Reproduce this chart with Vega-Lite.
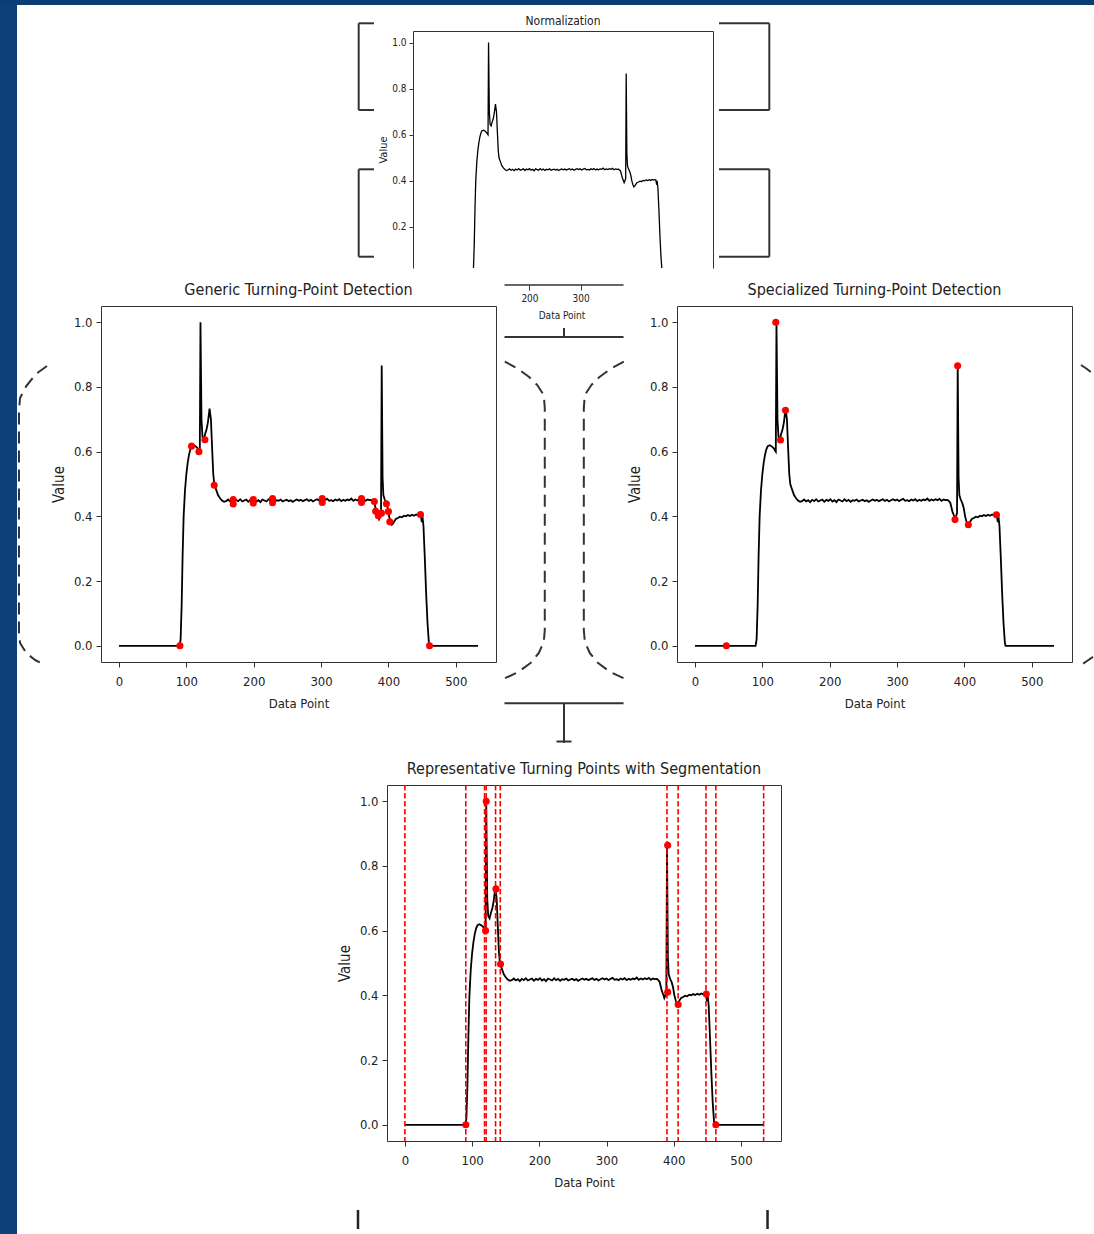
{
"$schema": "https://vega.github.io/schema/vega-lite/v6.json",
"padding": 0,
"background": "white",
"config": {
  "view": {"stroke": null},
  "font": "DejaVu Sans Condensed, Liberation Sans Narrow, DejaVu Sans, sans-serif",
  "axis": {"grid": false, "domain": false, "tickColor": "#333", "labelColor": "#222", "titleColor": "#222", "titleFontWeight": "normal", "tickSize": 5, "labelFontSize": 13, "titleFontSize": 13, "labelPadding": 5, "titlePadding": 5},
  "title": {"fontWeight": "normal", "color": "#222", "fontSize": 16},
  "concat": {"spacing": 0}
},
"datasets": {
  "signal": [
    {"x":0,"v":0},{"x":90,"v":0},{"x":91.5,"v":0.02},{"x":93,"v":0.12},{"x":94.5,"v":0.28},{"x":96,"v":0.4},{"x":98,"v":0.48},{"x":100,"v":0.53},{"x":102,"v":0.565},{"x":104,"v":0.59},{"x":106,"v":0.607},{"x":108,"v":0.617},{"x":111,"v":0.62},{"x":114,"v":0.616},{"x":117,"v":0.61},{"x":119,"v":0.603},{"x":120,"v":0.6},{"x":121,"v":1.0},{"x":122.5,"v":0.7},{"x":124,"v":0.645},{"x":126,"v":0.638},{"x":128,"v":0.655},{"x":130,"v":0.668},{"x":132,"v":0.69},{"x":134.5,"v":0.733},{"x":136.5,"v":0.7},{"x":138.5,"v":0.6},{"x":140,"v":0.53},{"x":141.5,"v":0.5},{"x":143,"v":0.49},{"x":145,"v":0.478},{"x":147,"v":0.466},{"x":150,"v":0.456},{"x":153,"v":0.449},{"x":156,"v":0.445},
    {"x":159,"v":0.447},{"x":162,"v":0.452},{"x":165,"v":0.446},{"x":168,"v":0.45},{"x":171,"v":0.444},{"x":174,"v":0.451},{"x":177,"v":0.447},{"x":180,"v":0.453},{"x":183,"v":0.446},{"x":186,"v":0.449},{"x":189,"v":0.452},{"x":192,"v":0.445},{"x":195,"v":0.451},{"x":198,"v":0.448},{"x":201,"v":0.453},{"x":204,"v":0.446},{"x":207,"v":0.45},{"x":210,"v":0.444},{"x":213,"v":0.452},{"x":216,"v":0.449},{"x":219,"v":0.446},{"x":222,"v":0.453},{"x":225,"v":0.447},{"x":228,"v":0.451},{"x":231,"v":0.445},{"x":234,"v":0.45},{"x":237,"v":0.448},{"x":240,"v":0.452},{"x":243,"v":0.446},{"x":246,"v":0.449},{"x":249,"v":0.451},{"x":252,"v":0.447},{"x":255,"v":0.45},{"x":258,"v":0.445},{"x":261,"v":0.449},{"x":264,"v":0.452},{"x":267,"v":0.448},{"x":270,"v":0.451},{"x":273,"v":0.447},{"x":276,"v":0.45},{"x":279,"v":0.453},{"x":282,"v":0.448},{"x":285,"v":0.451},{"x":288,"v":0.446},{"x":291,"v":0.45},{"x":294,"v":0.453},{"x":297,"v":0.449},{"x":300,"v":0.452},{"x":303,"v":0.447},{"x":306,"v":0.451},{"x":309,"v":0.454},{"x":312,"v":0.448},{"x":315,"v":0.45},{"x":318,"v":0.447},{"x":321,"v":0.452},{"x":324,"v":0.449},{"x":327,"v":0.453},{"x":330,"v":0.447},{"x":333,"v":0.451},{"x":336,"v":0.448},{"x":339,"v":0.452},{"x":342,"v":0.45},{"x":345,"v":0.455},{"x":348,"v":0.448},{"x":351,"v":0.452},{"x":354,"v":0.449},{"x":357,"v":0.453},{"x":360,"v":0.45},{"x":363,"v":0.454},{"x":366,"v":0.448},{"x":369,"v":0.452},{"x":372,"v":0.45},{"x":375,"v":0.451},{"x":377,"v":0.447},
    {"x":379,"v":0.442},{"x":381,"v":0.425},{"x":382.5,"v":0.412},{"x":384,"v":0.405},{"x":386,"v":0.392},{"x":387.5,"v":0.4},{"x":389,"v":0.41},{"x":390,"v":0.866},{"x":391.3,"v":0.52},{"x":392.5,"v":0.465},{"x":394.5,"v":0.452},{"x":397,"v":0.44},{"x":399,"v":0.425},{"x":401,"v":0.4},{"x":403,"v":0.384},{"x":405,"v":0.374},{"x":407,"v":0.378},{"x":409,"v":0.386},{"x":411,"v":0.392},{"x":414,"v":0.395},{"x":417,"v":0.399},{"x":420,"v":0.397},{"x":423,"v":0.402},{"x":426,"v":0.4},{"x":429,"v":0.404},{"x":432,"v":0.401},{"x":435,"v":0.405},{"x":438,"v":0.402},{"x":441,"v":0.406},{"x":444,"v":0.403},{"x":446,"v":0.405},{"x":448,"v":0.404},{"x":449.5,"v":0.382},{"x":450.5,"v":0.4},{"x":452,"v":0.37},{"x":454,"v":0.27},{"x":456,"v":0.16},{"x":458,"v":0.07},{"x":460,"v":0.01},{"x":461,"v":0},{"x":533,"v":0}
  ],
  "generic": [
    {"x":90.5,"v":0},{"x":107.8,"v":0.617},{"x":118.7,"v":0.6},{"x":127.6,"v":0.637},{"x":141.4,"v":0.496},{"x":169.6,"v":0.452},{"x":169.6,"v":0.438},{"x":199.3,"v":0.452},{"x":199.3,"v":0.441},{"x":228,"v":0.455},{"x":228,"v":0.442},{"x":301.7,"v":0.455},{"x":301.7,"v":0.443},{"x":360,"v":0.455},{"x":360,"v":0.443},{"x":379,"v":0.446},{"x":381,"v":0.416},{"x":385,"v":0.402},{"x":389.6,"v":0.41},{"x":397,"v":0.439},{"x":400,"v":0.415},{"x":402,"v":0.383},{"x":447.6,"v":0.406},{"x":461,"v":0}
  ],
  "special": [
    {"x":46.6,"v":0},{"x":120,"v":1.0},{"x":127,"v":0.636},{"x":134.4,"v":0.728},{"x":389.9,"v":0.865},{"x":386,"v":0.39},{"x":405.8,"v":0.374},{"x":447.5,"v":0.405}
  ],
  "rep": [
    {"x":90.6,"v":0},{"x":120,"v":0.6},{"x":121,"v":1.0},{"x":135.5,"v":0.729},{"x":142.3,"v":0.497},{"x":391,"v":0.864},{"x":391,"v":0.41},{"x":406.6,"v":0.372},{"x":448.5,"v":0.404},{"x":462.7,"v":0}
  ],
  "seg": [
    {"x":0},{"x":90.6},{"x":118.5},{"x":121},{"x":134.9},{"x":141.9},{"x":390},{"x":406.6},{"x":448},{"x":462.7},{"x":533.8}
  ],
  "decoTop": [
    {"x":-132.8,"x2":-132.8,"v":1.0834,"v2":0.7073},{"x":-132.8,"x2":-102.9,"v":1.0834,"v2":1.0834},{"x":-132.8,"x2":-102.9,"v":0.7073,"v2":0.7073},
    {"x":-132.8,"x2":-132.8,"v":0.4501,"v2":0.071},{"x":-132.8,"x2":-102.9,"v":0.4501,"v2":0.4501},{"x":-132.8,"x2":-102.9,"v":0.071,"v2":0.071},
    {"x":669.7,"x2":669.7,"v":1.0834,"v2":0.7073},{"x":571.4,"x2":669.7,"v":1.0834,"v2":1.0834},{"x":571.4,"x2":669.7,"v":0.7073,"v2":0.7073},
    {"x":669.7,"x2":669.7,"v":0.4501,"v2":0.071},{"x":571.4,"x2":669.7,"v":0.4501,"v2":0.4501},{"x":571.4,"x2":669.7,"v":0.071,"v2":0.071}
  ],
  "decoLdash": [
    {"seg":"a","i":0,"x":-106.8,"v":0.8646},{"seg":"a","i":1,"x":-123.1,"v":0.8399},{"seg":"a","i":2,"x":-137.5,"v":0.8028},{"seg":"a","i":3,"x":-146.8,"v":0.7657},{"seg":"a","i":4,"x":-148.4,"v":0.7287},{"seg":"a","i":5,"x":-148.4,"v":0.0427},{"seg":"a","i":6,"x":-146.8,"v":0.0087},{"seg":"a","i":7,"x":-137.5,"v":-0.0222},{"seg":"a","i":8,"x":-124.6,"v":-0.0438},{"seg":"a","i":9,"x":-112.7,"v":-0.0562}
  ],
  "decoMdash": [
    {"seg":"b","i":0,"x":151.8,"v":0.8779},{"seg":"b","i":1,"x":176.0,"v":0.8575},{"seg":"b","i":2,"x":198.7,"v":0.8315},{"seg":"b","i":3,"x":215.1,"v":0.8059},{"seg":"b","i":4,"x":228.0,"v":0.775},{"seg":"b","i":5,"x":229.9,"v":0.7339},{"seg":"b","i":6,"x":229.9,"v":0.0489},{"seg":"b","i":7,"x":228.0,"v":0.0127},{"seg":"b","i":8,"x":218.2,"v":-0.0222},{"seg":"b","i":9,"x":202.0,"v":-0.0531},{"seg":"b","i":10,"x":179.1,"v":-0.08},{"seg":"b","i":11,"x":151.8,"v":-0.1004},
    {"seg":"c","i":0,"x":384.3,"v":0.8779},{"seg":"c","i":1,"x":360.1,"v":0.8575},{"seg":"c","i":2,"x":337.4,"v":0.8315},{"seg":"c","i":3,"x":321.0,"v":0.8059},{"seg":"c","i":4,"x":308.1,"v":0.775},{"seg":"c","i":5,"x":306.2,"v":0.7339},{"seg":"c","i":6,"x":306.2,"v":0.0489},{"seg":"c","i":7,"x":308.1,"v":0.0127},{"seg":"c","i":8,"x":317.9,"v":-0.0222},{"seg":"c","i":9,"x":334.1,"v":-0.0531},{"seg":"c","i":10,"x":357.0,"v":-0.08},{"seg":"c","i":11,"x":384.3,"v":-0.1004}
  ],
  "decoMsolid": [
    {"x":151.2,"x2":383.8,"v":0.9542,"v2":0.9542},{"x":267.5,"x2":267.5,"v":0.9542,"v2":0.982},
    {"x":151.2,"x2":383.8,"v":-0.1776,"v2":-0.1776},{"x":267.5,"x2":267.5,"v":-0.1776,"v2":-0.3003},{"x":252.8,"x2":282.1,"v":-0.2957,"v2":-0.2957}
  ],
  "decoRdash": [
    {"seg":"d","i":0,"x":573.0,"v":0.8677},{"seg":"d","i":1,"x":581.9,"v":0.8553},{"seg":"d","i":2,"x":590.8,"v":0.8405},
    {"seg":"e","i":0,"x":590.8,"v":-0.034},{"seg":"e","i":1,"x":581.9,"v":-0.0469},{"seg":"e","i":2,"x":573.0,"v":-0.0593}
  ],
  "decoBottom": [
    {"x":-69.8,"v":-0.2632,"v2":-0.3219},{"x":539.6,"v":-0.2632,"v2":-0.3219}
  ]
},
"spacing": 0,
"vconcat": [
  {"width": 1094, "height": 5, "view": {"fill": "#0d3d75", "stroke": null}, "data": {"values": []}, "mark": "point", "encoding": {}},
  {"spacing": 0, "hconcat": [
    {"width": 17, "height": 1229, "view": {"fill": "#0e3f78", "stroke": null}, "data": {"values": []}, "mark": "point", "encoding": {}},
    {"spacing": 0, "vconcat": [
      {"width": 1, "height": 9.5, "data": {"values": []}, "mark": "point", "encoding": {}},
      {"spacing": 13, "vconcat": [
        {"spacing": 0, "hconcat": [
          {"width": 255.7, "height": 10, "data": {"values": []}, "mark": "point", "encoding": {}},
          {"width": 300, "height": 237,
           "title": {"text": "Normalization", "fontSize": 12, "offset": -6.2},
           "resolve": {"axis": {"x": "independent", "y": "independent"}},
           "layer": [
             {"data": {"name": "signal"}, "mark": {"type": "line", "color": "#000", "strokeWidth": 1.3, "clip": true},
              "encoding": {
                "x": {"field": "x", "type": "quantitative", "scale": {"domain": [-26.65, 559.65], "nice": false, "zero": false}, "axis": null},
                "y": {"field": "v", "type": "quantitative", "scale": {"domain": [0.022, 1.05], "nice": false, "zero": false}, "axis": {"values": [0.2, 0.4, 0.6, 0.8, 1.0], "format": ".1f", "title": "Value", "domain": true, "domainColor": "#333", "labelFontSize": 10, "titleFontSize": 11, "tickSize": 4, "labelPadding": 3, "titlePadding": 3}}
              }},
             {"data": {"name": "decoTop"}, "mark": {"type": "rule", "color": "#333", "strokeWidth": 2, "clip": false},
              "encoding": {
                "x": {"field": "x", "type": "quantitative", "scale": {"domain": [-26.65, 559.65], "nice": false, "zero": false}, "axis": {"orient": "top", "labels": false, "ticks": false, "title": null, "domain": true, "domainColor": "#333"}},
                "x2": {"field": "x2"},
                "y": {"field": "v", "type": "quantitative", "scale": {"domain": [0.022, 1.05], "nice": false, "zero": false}, "axis": {"orient": "right", "labels": false, "ticks": false, "title": null, "domain": true, "domainColor": "#333"}},
                "y2": {"field": "v2"}
              }}
           ]}
        ]},
        {"spacing": 15, "vconcat": [
          {"spacing": 0, "hconcat": [
            {"width": 395, "height": 356,
             "title": {"text": "Generic Turning-Point Detection", "offset": 8},
             "view": {"stroke": "#333", "strokeWidth": 1},
             "encoding": {
               "x": {"field": "x", "type": "quantitative", "scale": {"domain": [-26.65, 559.65], "nice": false, "zero": false}, "axis": {"values": [0, 100, 200, 300, 400, 500], "title": "Data Point", "labelPadding": 8, "titlePadding": 9}},
               "y": {"field": "v", "type": "quantitative", "scale": {"domain": [-0.05, 1.05], "nice": false, "zero": false}, "axis": {"values": [0, 0.2, 0.4, 0.6, 0.8, 1], "format": ".1f", "title": "Value", "titleFontSize": 15, "labelPadding": 4, "titlePadding": 7}}
             },
             "layer": [
               {"data": {"name": "signal"}, "mark": {"type": "line", "color": "#000", "strokeWidth": 1.8}},
               {"data": {"name": "generic"}, "mark": {"type": "circle", "color": "#ff0000", "size": 50, "opacity": 1}},
               {"data": {"name": "decoLdash"}, "mark": {"type": "line", "color": "#333", "strokeWidth": 2, "strokeDash": [12, 7], "strokeJoin": "round", "clip": false},
                "encoding": {"detail": {"field": "seg"}, "order": {"field": "i", "type": "quantitative"}}}
             ]},
            {"width": 129, "height": 356,
             "layer": [
               {"data": {"name": "decoMdash"}, "mark": {"type": "line", "color": "#333", "strokeWidth": 2, "strokeDash": [12, 7], "strokeJoin": "round", "clip": false},
                "encoding": {
                  "x": {"field": "x", "type": "quantitative", "scale": {"domain": [136.53, 388.63], "nice": false, "zero": false}, "axis": {"values": [200, 300], "offset": -377, "domain": false, "title": "Data Point", "labelFontSize": 10, "titleFontSize": 10, "tickSize": 5, "labelPadding": 3, "titlePadding": 7}},
                  "y": {"field": "v", "type": "quantitative", "scale": {"domain": [-0.05, 1.05], "nice": false, "zero": false}, "axis": null},
                  "detail": {"field": "seg"}, "order": {"field": "i", "type": "quantitative"}
                }},
               {"data": {"name": "decoMsolid"}, "mark": {"type": "rule", "color": "#333", "strokeWidth": 2, "clip": false},
                "encoding": {
                  "x": {"field": "x", "type": "quantitative", "scale": {"domain": [136.53, 388.63], "nice": false, "zero": false}},
                  "x2": {"field": "x2"},
                  "y": {"field": "v", "type": "quantitative", "scale": {"domain": [-0.05, 1.05], "nice": false, "zero": false}, "axis": null},
                  "y2": {"field": "v2"}
                }},
               {"data": {"values": [{}]}, "mark": {"type": "rule", "color": "#333", "strokeWidth": 1.3, "clip": false},
                "encoding": {
                  "x": {"datum": 151.2, "type": "quantitative", "scale": {"domain": [136.53, 388.63], "nice": false, "zero": false}},
                  "x2": {"datum": 383.8},
                  "y": {"datum": 1.1149, "type": "quantitative", "scale": {"domain": [-0.05, 1.05], "nice": false, "zero": false}, "axis": null}
                }}
             ]},
            {"width": 395, "height": 356,
             "title": {"text": "Specialized Turning-Point Detection", "offset": 8},
             "view": {"stroke": "#333", "strokeWidth": 1},
             "encoding": {
               "x": {"field": "x", "type": "quantitative", "scale": {"domain": [-26.65, 559.65], "nice": false, "zero": false}, "axis": {"values": [0, 100, 200, 300, 400, 500], "title": "Data Point", "labelPadding": 8, "titlePadding": 9}},
               "y": {"field": "v", "type": "quantitative", "scale": {"domain": [-0.05, 1.05], "nice": false, "zero": false}, "axis": {"values": [0, 0.2, 0.4, 0.6, 0.8, 1], "format": ".1f", "title": "Value", "titleFontSize": 15, "labelPadding": 4, "titlePadding": 7}}
             },
             "layer": [
               {"data": {"name": "signal"}, "mark": {"type": "line", "color": "#000", "strokeWidth": 1.8}},
               {"data": {"name": "special"}, "mark": {"type": "circle", "color": "#ff0000", "size": 50, "opacity": 1}},
               {"data": {"name": "decoRdash"}, "mark": {"type": "line", "color": "#333", "strokeWidth": 2, "strokeDash": [12, 7], "strokeJoin": "round", "clip": false},
                "encoding": {"detail": {"field": "seg"}, "order": {"field": "i", "type": "quantitative"}}}
             ]}
          ]},
          {"spacing": 0, "hconcat": [
            {"width": 235, "height": 10, "data": {"values": []}, "mark": "point", "encoding": {}},
            {"width": 394, "height": 356,
             "title": {"text": "Representative Turning Points with Segmentation", "offset": 7},
             "view": {"stroke": "#333", "strokeWidth": 1},
             "layer": [
               {"data": {"name": "signal"}, "mark": {"type": "line", "color": "#000", "strokeWidth": 1.8},
                "encoding": {
                  "x": {"field": "x", "type": "quantitative", "scale": {"domain": [-26.65, 559.65], "nice": false, "zero": false}, "axis": {"values": [0, 100, 200, 300, 400, 500], "title": "Data Point", "labelPadding": 8, "titlePadding": 9}},
                  "y": {"field": "v", "type": "quantitative", "scale": {"domain": [-0.05, 1.05], "nice": false, "zero": false}, "axis": {"values": [0, 0.2, 0.4, 0.6, 0.8, 1], "format": ".1f", "title": "Value", "titleFontSize": 15, "labelPadding": 4, "titlePadding": 7}}
                }},
               {"data": {"name": "seg"}, "mark": {"type": "rule", "color": "#ff0000", "strokeWidth": 1.6, "strokeDash": [5.5, 2.5]},
                "encoding": {"x": {"field": "x", "type": "quantitative", "scale": {"domain": [-26.65, 559.65], "nice": false, "zero": false}}}},
               {"data": {"name": "rep"}, "mark": {"type": "circle", "color": "#ff0000", "size": 50, "opacity": 1},
                "encoding": {
                  "x": {"field": "x", "type": "quantitative", "scale": {"domain": [-26.65, 559.65], "nice": false, "zero": false}},
                  "y": {"field": "v", "type": "quantitative", "scale": {"domain": [-0.05, 1.05], "nice": false, "zero": false}}
                }},
               {"data": {"name": "decoBottom"}, "mark": {"type": "rule", "color": "#222", "strokeWidth": 2.5, "clip": false},
                "encoding": {
                  "x": {"field": "x", "type": "quantitative", "scale": {"domain": [-26.65, 559.65], "nice": false, "zero": false}},
                  "y": {"field": "v", "type": "quantitative", "scale": {"domain": [-0.05, 1.05], "nice": false, "zero": false}},
                  "y2": {"field": "v2"}
                }}
             ]}
          ]}
        ]}
      ]}
    ]}
  ]}
]
}
